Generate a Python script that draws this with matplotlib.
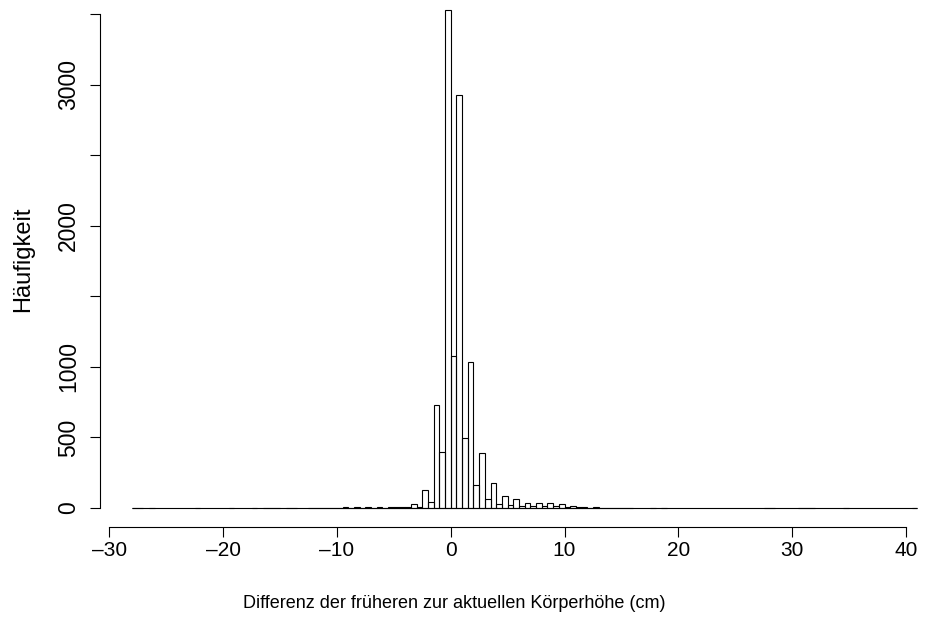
import numpy as np
import matplotlib
matplotlib.use("Agg")
import matplotlib.pyplot as plt

plt.rcParams["font.family"] = ["Liberation Sans", "DejaVu Sans"]
plt.rcParams["font.size"] = 13

# histogram bins of width 0.5 cm, given by left edge; bins not listed are empty
bin_width = 0.5
hist_range = (-28.0, 41.0)
bin_left = [
    -28.0, -27.5, -26.5, -22.5, -19.5, -17.5, -16.5, -16.0, -15.5, -14.5,
    -14.0, -12.5, -12.0, -11.5, -11.0, -10.5, -10.0, -9.5, -9.0, -8.5,
    -8.0, -7.5, -7.0, -6.5, -6.0, -5.5, -5.0, -4.5, -4.0, -3.5,
    -3.0, -2.5, -2.0, -1.5, -1.0, -0.5, 0.0, 0.5, 1.0, 1.5,
    2.0, 2.5, 3.0, 3.5, 4.0, 4.5, 5.0, 5.5, 6.0, 6.5,
    7.0, 7.5, 8.0, 8.5, 9.0, 9.5, 10.0, 10.5, 11.0, 11.5,
    12.0, 12.5, 13.0, 13.5, 14.0, 14.5, 15.0, 15.5, 17.5, 18.5,
    27.5, 28.0, 30.5, 31.0, 31.5, 34.5, 40.5,
]
counts = [
    1, 1, 1, 1, 1, 1, 1, 1, 1, 1,
    1, 1, 1, 1, 1, 3, 1, 4, 2, 6,
    2, 6, 3, 7, 3, 8, 4, 9, 6, 26,
    9, 128, 45, 730, 399, 3530, 1080, 2929, 498, 1032,
    165, 388, 62, 177, 25, 82, 21, 65, 17, 33,
    12, 38, 15, 33, 12, 28, 7, 12, 4, 8,
    2, 4, 1, 3, 1, 2, 1, 2, 1, 1,
    1, 1, 1, 1, 1, 1, 1,
]

x_ticks = [-30, -20, -10, 0, 10, 20, 30, 40]
y_ticks = [0, 500, 1000, 1500, 2000, 2500, 3000, 3500]
y_tick_labels = ["0", "500", "1000", "", "2000", "", "3000", ""]

W, H = 925, 622
fig = plt.figure(figsize=(W / 100, H / 100), dpi=100)

# plot box in pixels: left, right, top, bottom
px_l, px_r, px_t, px_b = 100, 925, 5, 527
ax = fig.add_axes([px_l / W, (H - px_b) / H, (px_r - px_l) / W, (px_b - px_t) / H])

# data -> pixel scales of the histogram
x_per_px = 1 / 11.381
y_per_px = 1 / 0.14114
x0_px, y0_px = 450.7, 508
ax.set_xlim((px_l - x0_px) * x_per_px, (px_r - x0_px) * x_per_px)
ax.set_ylim(-(px_b - y0_px) * y_per_px, (y0_px - px_t) * y_per_px)

lw = 0.8
ax.hlines(0, hist_range[0], hist_range[1], color="black", lw=lw)
ax.bar(bin_left, counts, width=bin_width, align="edge", fill=False,
       edgecolor="black", linewidth=lw)

for s in ["top", "right"]:
    ax.spines[s].set_visible(False)
ax.spines["left"].set_bounds(y_ticks[0], y_ticks[-1])
ax.spines["bottom"].set_bounds(x_ticks[0], x_ticks[-1])
ax.spines["left"].set_linewidth(lw)
ax.spines["bottom"].set_linewidth(lw)

ax.set_xticks(x_ticks)
ax.set_xticklabels(["\u2013" + str(-t) if t < 0 else str(t) for t in x_ticks])
ax.set_yticks(y_ticks)
ax.set_yticklabels(y_tick_labels, rotation=90, va="center")
ax.tick_params(axis="x", length=7.2, width=lw, pad=3.2, labelsize=15)
ax.tick_params(axis="y", length=7.2, width=lw, pad=7.2, labelsize=16.5)

fig.text(23 / W, 1 - 259 / H, "Häufigkeit", rotation=90, ha="center",
         va="center", fontsize=17)
fig.text(454 / W, 1 - 604 / H, "Differenz der früheren zur aktuellen Körperhöhe (cm)",
         ha="center", va="center", fontsize=13)

fig.savefig("out.png", dpi=100)
